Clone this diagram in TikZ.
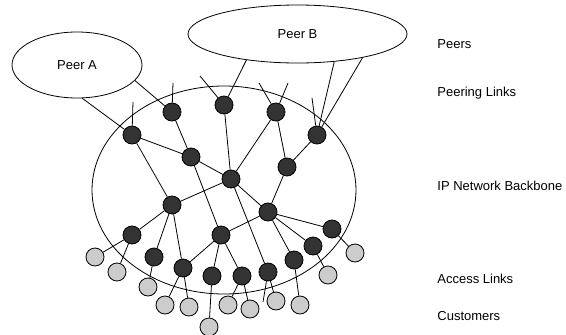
\documentclass[tikz,border=0pt]{standalone}
\usepackage{fontspec}
\setmainfont{Liberation Sans}
\usetikzlibrary{shapes.geometric}
\tikzset{
	router/.style={circle, draw, fill=black!80, minimum size=18pt, inner sep=0pt},
	customer/.style={circle, draw, fill=black!20, minimum size=18pt, inner sep=0pt},
	peer/.style={ellipse, draw, inner sep=0pt},
	layer/.style={anchor=west, inner sep=0pt},
}
\begin{document}
\begin{tikzpicture}[x=1pt, y=-1pt, line width=0.8pt, font=\fontsize{13}{15}\selectfont]
		\useasboundingbox (0,0) rectangle (566,335);

		\node[peer, minimum width=130pt, minimum height=66pt] (peerA) at (77,65) {Peer A};
		\node[peer, minimum width=219pt, minimum height=58pt] (peerB) at (297.5,34) {Peer B};
		\node[ellipse, draw, minimum width=264pt, minimum height=208pt] (backbone) at (224,190) {};

		\node[layer] (lPeers) at (437,44) {Peers};
		\node[layer] (lLinks) at (437,93) {Peering Links};
		\node[layer] (lBone) at (437,186) {IP Network Backbone};
		\node[layer] (lAccess) at (437,279) {Access Links};
		\node[layer] (lCust) at (437,316) {Customers};

		\node[router] (r1) at (132,135) {};
		\node[router] (r2) at (172,112) {};
		\node[router] (r3) at (191,157) {};
		\node[router] (r4) at (224,105) {};
		\node[router] (r5) at (276,112) {};
		\node[router] (r6) at (317,135) {};
		\node[router] (r7) at (287,167) {};
		\node[router] (r8) at (231,179) {};
		\node[router] (r9) at (172,205) {};
		\node[router] (r10) at (268,212) {};
		\node[router] (r11) at (132,235) {};
		\node[router] (r12) at (154,257) {};
		\node[router] (r13) at (183,268) {};
		\node[router] (r14) at (221,235) {};
		\node[router] (r15) at (212,276) {};
		\node[router] (r16) at (242,276) {};
		\node[router] (r17) at (268,272) {};
		\node[router] (r18) at (294,260) {};
		\node[router] (r19) at (313,246) {};
		\node[router] (r20) at (332,229) {};

		\node[customer] (c1) at (95,257) {};
		\node[customer] (c2) at (117,272) {};
		\node[customer] (c3) at (148,287) {};
		\node[customer] (c4) at (165,305) {};
		\node[customer] (c5) at (189,307) {};
		\node[customer] (c6) at (209,327) {};
		\node[customer] (c7) at (228,305) {};
		\node[customer] (c8) at (250,309) {};
		\node[customer] (c9) at (276,301) {};
		\node[customer] (c10) at (300,305) {};
		\node[customer] (c11) at (328,275) {};
		\node[customer] (c12) at (355,253) {};

		\coordinate (s1) at (133,102);
		\coordinate (s2) at (173,83);
		\coordinate (s4) at (200,76);
		\coordinate (s5a) at (259,83);
		\coordinate (s5b) at (288,83);
		\coordinate (s6) at (312,98);
		\coordinate (s17) at (263,302);

		\draw (peerA.-81) -- (r1);
		\draw (peerA.-15) -- (r2);
		\draw (peerB.-153) -- (r4);
		\draw (peerB.-37) -- (r6);
		\draw (peerB.-20) -- (r6);

		\draw (s1) -- (r1);
		\draw (s2) -- (r2);
		\draw (s4) -- (r4);
		\draw (s5a) -- (r5);
		\draw (s5b) -- (r5);
		\draw (s6) -- (r6);
		\draw (s17) -- (r17);

		\draw (r1) -- (r3);
		\draw (r2) -- (r3);
		\draw (r1) -- (r9);
		\draw (r3) -- (r8);
		\draw (r3) -- (r14);
		\draw (r4) -- (r8);
		\draw (r5) -- (r8);
		\draw (r5) -- (r7);
		\draw (r6) -- (r7);
		\draw (r7) -- (r10);
		\draw (r8) -- (r9);
		\draw (r8) -- (r10);
		\draw (r8) -- (r17);
		\draw (r9) -- (r11);
		\draw (r9) -- (r12);
		\draw (r9) -- (r13);
		\draw (r10) -- (r14);
		\draw (r10) -- (r18);
		\draw (r10) -- (r19);
		\draw (r10) -- (r20);
		\draw (r14) -- (r13);
		\draw (r14) -- (r15);
		\draw (r14) -- (r16);

		\draw (r11) -- (c1);
		\draw (r11) -- (c2);
		\draw (r12) -- (c3);
		\draw (r13) -- (c4);
		\draw (r13) -- (c5);
		\draw (r15) -- (c6);
		\draw (r16) -- (c7);
		\draw (r16) -- (c8);
		\draw (r17) -- (c9);
		\draw (r18) -- (c10);
		\draw (r19) -- (c11);
		\draw (r20) -- (c12);
\end{tikzpicture}
\end{document}
